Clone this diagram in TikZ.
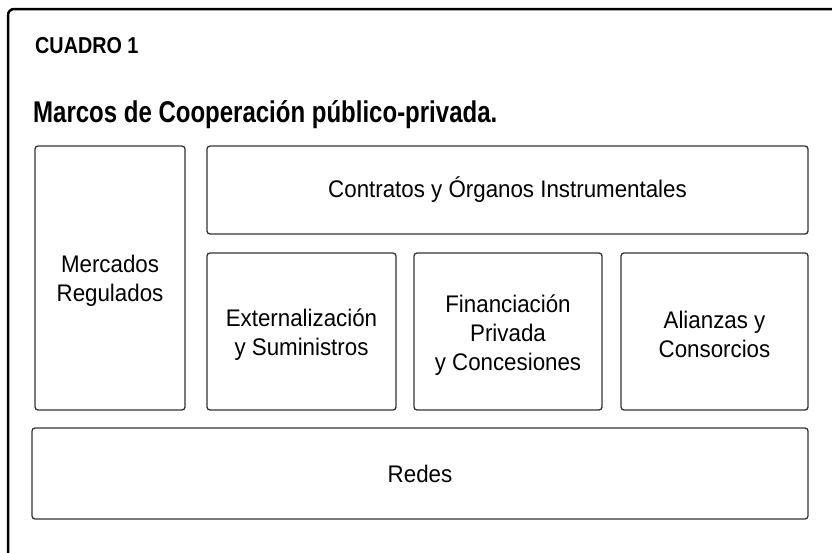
\documentclass[tikz,border=0pt]{standalone}
\usepackage{fontspec}
\setmainfont[FakeStretch=0.93]{Liberation Sans}
\newfontfamily\titlefont[FakeStretch=0.80]{Liberation Sans}
\newfontfamily\cuadrofont[FakeStretch=0.86]{Liberation Sans}
\begin{document}
\begin{tikzpicture}[x=1pt,y=-1pt,
  boxnode/.style={draw=black!80, line width=1.3pt, rounded corners=3pt,
    align=center, inner sep=0pt,
    font=\fontsize{24}{29}\selectfont},
  frame/.style={draw=black, line width=2.5pt, rounded corners=6pt}]
\useasboundingbox (0,0) rectangle (832,552);
\clip (0,0) rectangle (832,552);
\fill[white] (0,0) rectangle (832,552);
\draw[frame] (8,9) rectangle (860,580);
\node[anchor=base west, inner sep=0pt, font=\cuadrofont\bfseries\fontsize{23}{27}\selectfont] (cuadro) at (35,53) {CUADRO 1};
\node[anchor=base west, inner sep=0pt, font=\titlefont\bfseries\fontsize{30}{34}\selectfont] (titulo) at (33,122) {Marcos de Cooperación público-privada.};
\node[boxnode, minimum width=150pt, minimum height=264pt] (merc) at (110,278) {};
\node[inner sep=0pt, align=center, font=\fontsize{24}{29}\selectfont] (merct) at (110,281) {Mercados\\Regulados};
\node[boxnode, minimum width=601pt, minimum height=88pt] (contr) at (507.5,190) {Contratos y Órganos Instrumentales};
\node[boxnode, minimum width=189pt, minimum height=157pt] (ext) at (301.5,331.5) {};
\node[inner sep=0pt, align=center, font=\fontsize{24}{29}\selectfont] (extt) at (301.5,335) {Externalización\\y Suministros};
\node[boxnode, minimum width=188pt, minimum height=157pt] (fin) at (508,331.5) {};
\node[inner sep=0pt, align=center, font=\fontsize{24}{29}\selectfont] (fint) at (508,335) {Financiación\\Privada\\y Concesiones};
\node[boxnode, minimum width=187pt, minimum height=157pt] (ali) at (714.5,331.5) {};
\node[inner sep=0pt, align=center, font=\fontsize{24}{29}\selectfont] (alit) at (714.5,334) {Alianzas y\\Consorcios};
\node[boxnode, minimum width=776pt, minimum height=91pt] (redes) at (420,473.5) {Redes};
\end{tikzpicture}
\end{document}
